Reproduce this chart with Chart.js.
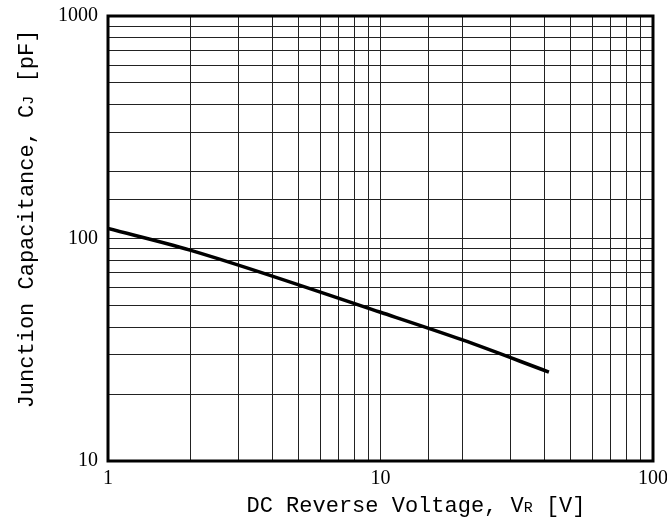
<!DOCTYPE html>
<html>
<head>
<meta charset="utf-8">
<script src="https://cdn.jsdelivr.net/npm/chart.js@4.4.0/dist/chart.umd.min.js"></script>
<style>
  html, body { margin: 0; padding: 0; background: #fff; }
  #wrap { width: 667px; height: 521px; }
</style>
</head>
<body>
<div id="wrap"><canvas id="capChart" width="667" height="521"></canvas></div>
<script>
// values (log-log)
var voltage = [1, 2, 10, 20, 41.5];
var capacitance = [111, 88.7, 46.6, 35.0, 25.1];
var xLabelValues = [1, 10, 100];
var yLabelValues = [10, 100, 1000];

var tickFont = { family: 'Liberation Serif', size: 20 };
var titleFamily = 'Liberation Mono';

// title pieces: [text, small?]
var xTitle = [['DC Reverse Voltage, V', false], ['R', true], [' [V]', false]];
var yTitle = [['Junction Capacitance, C', false], ['J', true], [' [pF]', false]];

function drawTitle(ctx, parts, cx, cy, rot) {
    ctx.save();
    ctx.translate(cx, cy);
    ctx.rotate(rot);
    ctx.fillStyle = '#000';
    ctx.textBaseline = 'alphabetic';
    var total = 0;
    parts.forEach(function (p) {
        ctx.font = (p[1] ? 15 : 22) + 'px "' + titleFamily + '"';
        total += ctx.measureText(p[0]).width;
    });
    var x = -total / 2;
    parts.forEach(function (p) {
        ctx.font = (p[1] ? 15 : 22) + 'px "' + titleFamily + '"';
        ctx.fillText(p[0], x, 8);
        x += ctx.measureText(p[0]).width;
    });
    ctx.restore();
}

// full box round the plot plus the axis titles
var frame = {
    id: 'frame',
    afterDraw: function (chart) {
        var a = chart.chartArea, ctx = chart.ctx;
        ctx.save();
        ctx.strokeStyle = '#000';
        ctx.lineWidth = 3;
        ctx.strokeRect(a.left, a.top, a.right - a.left, a.bottom - a.top);
        ctx.restore();
        drawTitle(ctx, xTitle, 416, 504, 0);
        drawTitle(ctx, yTitle, 25, 219, -Math.PI / 2);
    }
};

var ctx = document.getElementById('capChart').getContext('2d');
window.capChart = new Chart(ctx, {
    type: 'line',
    data: {
        datasets: [{
            data: voltage.map(function (v, i) { return { x: v, y: capacitance[i] }; }),
            borderColor: '#000',
            borderWidth: 3.5,
            pointRadius: 0,
            fill: false,
            cubicInterpolationMode: 'monotone'
        }]
    },
    options: {
        responsive: false,
        animation: false,
        layout: { padding: { top: 16, right: 14, left: 0, bottom: 0 } },
        plugins: { legend: { display: false }, tooltip: { enabled: false } },
        scales: {
            x: {
                type: 'logarithmic',
                min: 1,
                max: 100,
                afterFit: function (s) {
                    s.height = 60;
                    s.paddingLeft = 0;
                    s.paddingRight = 0;
                },
                grid: { color: '#222', lineWidth: 1, drawTicks: false },
                border: { display: false },
                ticks: {
                    autoSkip: false,
                    maxRotation: 0,
                    padding: 6,
                    color: '#000',
                    font: tickFont,
                    callback: function (v) { return xLabelValues.indexOf(v) >= 0 ? String(v) : ''; }
                }
            },
            y: {
                type: 'logarithmic',
                min: 10,
                max: 1000,
                afterFit: function (s) {
                    s.width = 108;
                    s.paddingTop = 0;
                    s.paddingBottom = 0;
                },
                grid: { color: '#222', lineWidth: 1, drawTicks: false },
                border: { display: false },
                ticks: {
                    autoSkip: false,
                    padding: 10,
                    color: '#000',
                    font: tickFont,
                    callback: function (v) { return yLabelValues.indexOf(v) >= 0 ? String(v) : ''; }
                }
            }
        }
    },
    plugins: [frame]
});
</script>
</body>
</html>
